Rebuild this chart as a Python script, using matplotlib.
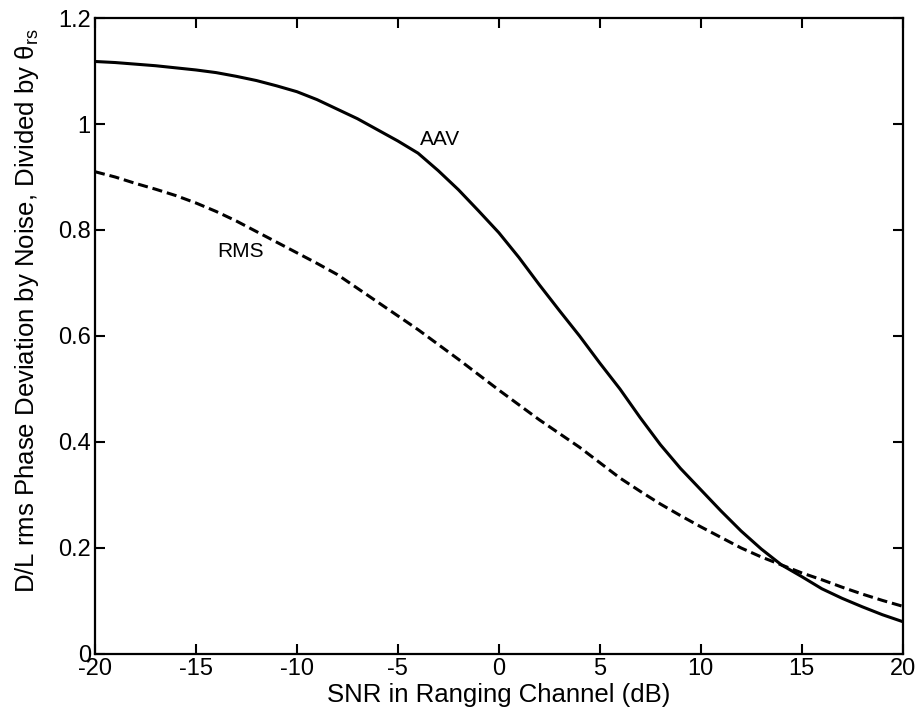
import matplotlib
matplotlib.use("Agg")
import matplotlib.pyplot as plt

plt.rcParams['font.family'] = ['Liberation Sans', 'DejaVu Sans']
plt.rcParams['mathtext.fontset'] = 'custom'
plt.rcParams['mathtext.rm'] = 'Liberation Sans'
plt.rcParams['mathtext.it'] = 'Liberation Sans'

snr_db = list(range(-20, 21))
aav = [1.118, 1.116, 1.113, 1.110, 1.106, 1.102, 1.097, 1.090, 1.082, 1.072,
       1.061, 1.046, 1.028, 1.010, 0.989, 0.968, 0.945, 0.912, 0.876, 0.836,
       0.795, 0.748, 0.697, 0.648, 0.600, 0.549, 0.500, 0.446, 0.395, 0.350,
       0.310, 0.270, 0.232, 0.198, 0.168, 0.146, 0.123, 0.105, 0.089, 0.074, 0.061]
rms = [0.910, 0.900, 0.888, 0.877, 0.865, 0.851, 0.835, 0.817, 0.797, 0.777,
       0.757, 0.737, 0.716, 0.690, 0.664, 0.638, 0.612, 0.584, 0.556, 0.527,
       0.498, 0.470, 0.442, 0.416, 0.390, 0.361, 0.332, 0.307, 0.283, 0.261,
       0.240, 0.220, 0.200, 0.183, 0.168, 0.153, 0.140, 0.126, 0.113, 0.101, 0.090]
xticks = [-20, -15, -10, -5, 0, 5, 10, 15, 20]
yticks = [0, 0.2, 0.4, 0.6, 0.8, 1.0, 1.2]
ytick_labels = ['0', '0.2', '0.4', '0.6', '0.8', '1', '1.2']

fig = plt.figure(figsize=(9.22, 7.21), dpi=100)
ax = fig.add_axes([0.103, 0.093, 0.876, 0.882])

ax.plot(snr_db, aav, color='black', lw=2.2, solid_capstyle='butt')
ax.plot(snr_db, rms, color='black', lw=2.2, linestyle=(0, (3.3, 1.6)))

ax.text(-2.9, 0.97, 'AAV', fontsize=15, ha='center', va='center')
ax.text(-12.8, 0.76, 'RMS', fontsize=15, ha='center', va='center')

ax.set_xlim(-20, 20)
ax.set_ylim(0, 1.2)
ax.set_xticks(xticks)
ax.set_xticklabels([str(t) for t in xticks])
ax.set_yticks(yticks)
ax.set_yticklabels(ytick_labels)
ax.tick_params(direction='in', length=7, width=1.5, top=True, right=True,
               labelsize=17, pad=3)
for s in ax.spines.values():
    s.set_linewidth(1.6)

ax.set_xlabel('SNR in Ranging Channel (dB)', fontsize=18.5, labelpad=2)
ax.set_ylabel(r'D/L rms Phase Deviation by Noise, Divided by $\mathrm{\theta_{rs}}$',
              fontsize=18.5, labelpad=12)
ax.yaxis.label.set_y(0.54)

fig.savefig('out.png', dpi=100)
